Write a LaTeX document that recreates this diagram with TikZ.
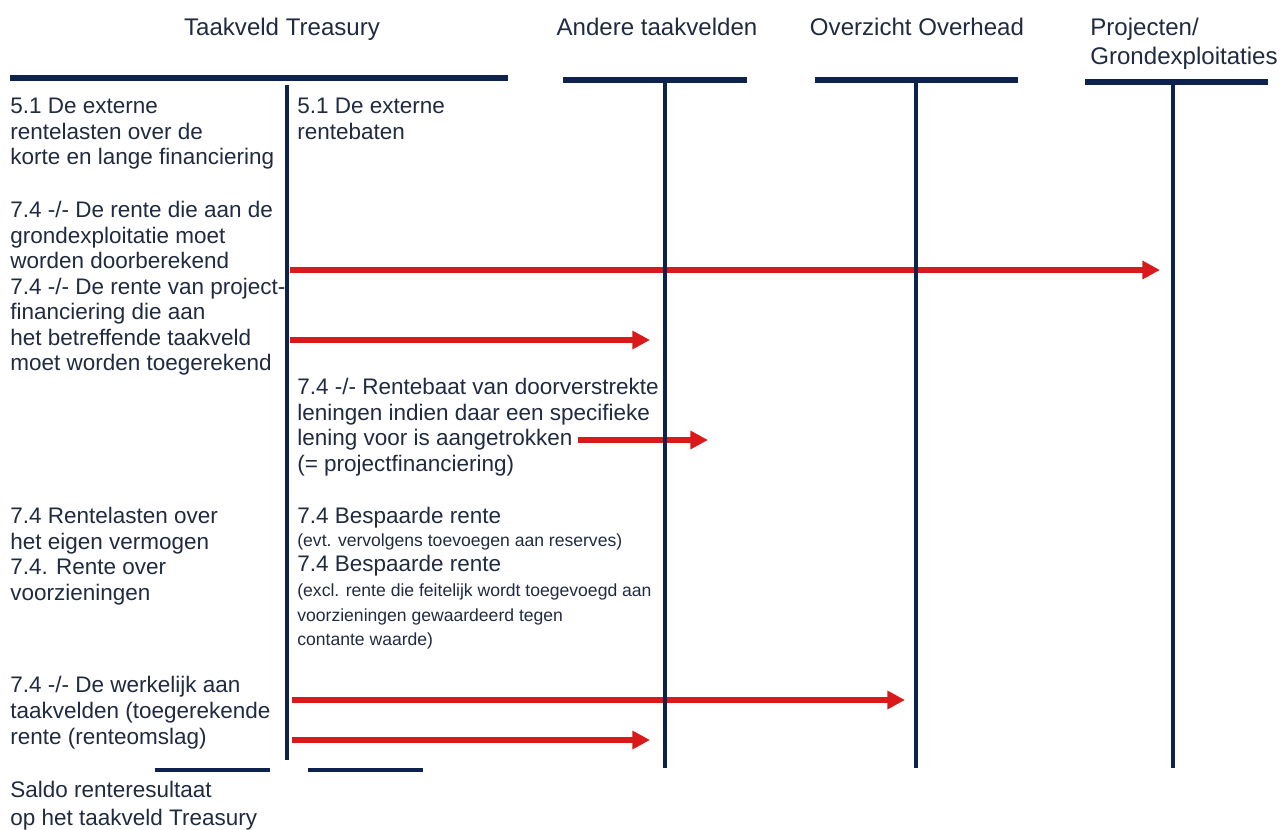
\documentclass[tikz,border=0pt]{standalone}
\usepackage{fontspec}
\setmainfont{Liberation Sans}
\usetikzlibrary{arrows.meta}
\definecolor{navy}{RGB}{14,34,78}
\definecolor{tekst}{RGB}{32,42,64}
\definecolor{pijlrood}{RGB}{218,26,26}
\tikzset{
	balk/.style={navy, line width=3pt},
	staander/.style={navy, line width=2.7pt},
	pijl/.style={pijlrood, line width=3.2pt, -{Triangle[length=10pt,width=10pt]}},
	kop/.style={tekst, font=\fontsize{13.7}{16.5}\selectfont, inner sep=0pt, anchor=base},
	blok/.style={tekst, font=\fontsize{12.8}{14.5}\selectfont, align=left, anchor=north west, inner sep=0pt},
	klein/.style={tekst, font=\fontsize{10}{14.2}\selectfont, align=left, anchor=north west, inner sep=0pt},
	regel/.style={anchor=base west},
}
\begin{document}
\begin{tikzpicture}[x=0.02cm, y=-0.02cm]
	\useasboundingbox (0,0) rectangle (1281,829);
	% koppen
	\node[kop] (kopTreasury) at (282,35) {Taakveld Treasury};
	\node[kop] (kopAndere) at (657,35) {Andere taakvelden};
	\node[kop] (kopOverhead) at (917,35) {Overzicht Overhead};
	\node[kop, anchor=base west, align=left] (kopProject) at (1090,64) {Projecten/\\Grondexploitaties};
	% kolommen
	\coordinate (treasTop) at (287,85);
	\coordinate (treasBot) at (287,760);
	\coordinate (andereTop) at (665,80);
	\coordinate (andereBot) at (665,768);
	\coordinate (overTop) at (916,80);
	\coordinate (overBot) at (916,768);
	\coordinate (projTop) at (1173,82);
	\coordinate (projBot) at (1173,768);
	% pijlen
	\coordinate (p1a) at (290,270);
	\coordinate (p1b) at (1160,270);
	\coordinate (p2a) at (290,340);
	\coordinate (p2b) at (650,340);
	\coordinate (p3a) at (578,440);
	\coordinate (p3b) at (708,440);
	\coordinate (p4a) at (292,700);
	\coordinate (p4b) at (905,700);
	\coordinate (p5a) at (292,740);
	\coordinate (p5b) at (650,740);
	\draw[pijl] (p1a)--(p1b);
	\draw[pijl] (p2a)--(p2b);
	\draw[pijl] (p3a)--(p3b);
	\draw[pijl] (p4a)--(p4b);
	\draw[pijl] (p5a)--(p5b);
	% T-balken
	\draw[balk] (10,78)--(508,78);
	\draw[balk] (563,80)--(747,80);
	\draw[balk] (815,80)--(1018,80);
	\draw[balk] (1085,82)--(1268,82);
	\draw[staander] (treasTop)--(treasBot);
	\draw[staander] (andereTop)--(andereBot);
	\draw[staander] (overTop)--(overBot);
	\draw[staander] (projTop)--(projBot);
	\draw[staander] (155,770)--(270,770);
	\draw[staander] (308,770)--(423,770);
	% linkerkant
	\node[blok] (lastenExtern) at (10,98) {5.1 De externe\\rentelasten over de\\korte en lange financiering};
	\node[blok] (renteDoor) at (10,201) {7.4 -/- De rente die aan de\\grondexploitatie moet\\worden doorberekend\\7.4 -/- De rente van project-\\financiering die aan\\het betreffende taakveld\\moet worden toegerekend};
	\node[blok] (lastenEigen) at (10,507) {7.4 Rentelasten over\\het eigen vermogen\\7.4. Rente over\\voorzieningen};
	\node[blok, font=\fontsize{12.8}{14.8}\selectfont] (renteWerk) at (10,676) {7.4 -/- De werkelijk aan\\taakvelden (toegerekende\\rente (renteomslag)};
	\node[blok, font=\fontsize{12.8}{15.6}\selectfont] (saldo) at (10,781) {Saldo renteresultaat\\op het taakveld Treasury};
	% rechterkant
	\node[blok] (batenExtern) at (297,98) {5.1 De externe\\rentebaten};
	\node[blok] (renteBaat) at (297,378) {7.4 -/- Rentebaat van doorverstrekte\\leningen indien daar een specifieke\\lening voor is aangetrokken\\(= projectfinanciering)};
	\node[blok, regel] (bespaardA) at (297,523) {7.4 Bespaarde rente};
	\node[klein, regel] (evt) at (297,546) {(evt. vervolgens toevoegen aan reserves)};
	\node[blok, regel] (bespaardB) at (297,571) {7.4 Bespaarde rente};
	\node[klein] (excl) at (297,583) {(excl. rente die feitelijk wordt toegevoegd aan\\voorzieningen gewaardeerd tegen\\contante waarde)};
\end{tikzpicture}
\end{document}
